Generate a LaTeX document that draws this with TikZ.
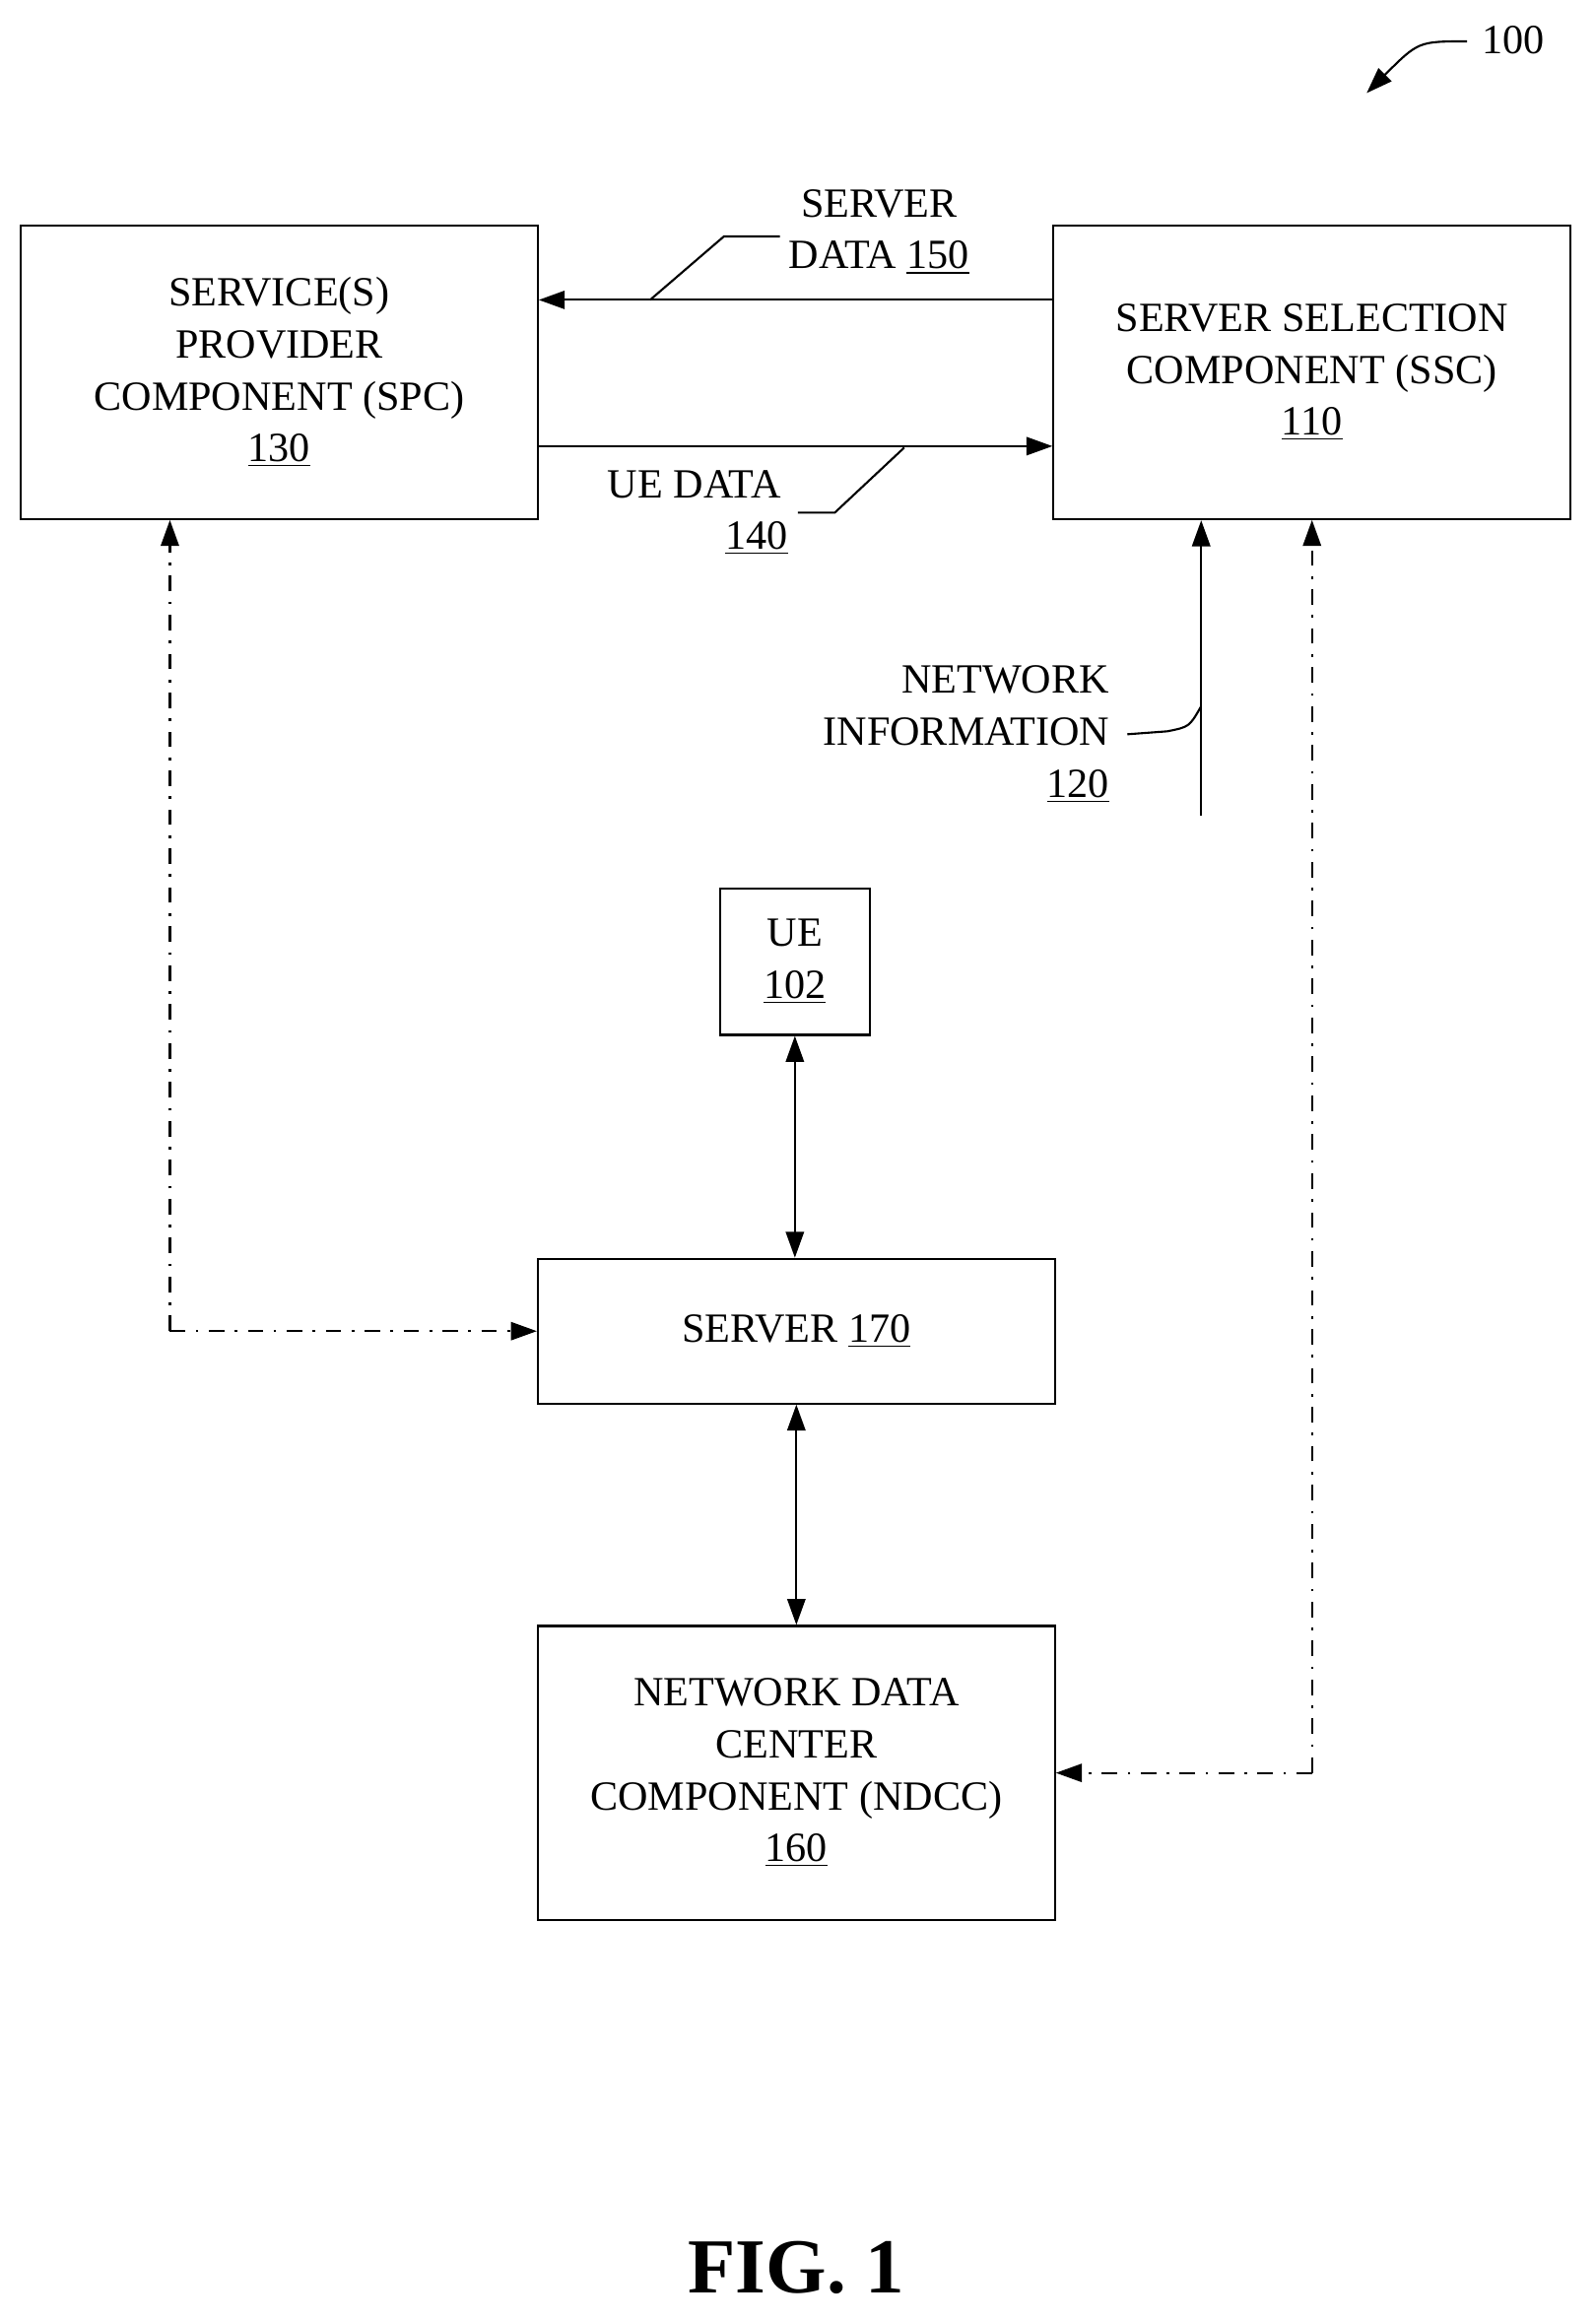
\documentclass[tikz,border=0pt]{standalone}
\usepackage{fontspec}
\setmainfont{Liberation Serif}
\usetikzlibrary{arrows.meta}
\begin{document}
\begin{tikzpicture}[x=0.02cm,y=-0.02cm,
  box/.style={draw, thick, minimum width=7cm, align=center, font=\fontsize{16}{20}\selectfont},
  lbl/.style={align=center, font=\fontsize{16}{20}\selectfont},
  arr/.style={-{Triangle[length=10pt,width=7pt]}, thick},
  darr/.style={{Triangle[length=10pt,width=7pt]}-{Triangle[length=10pt,width=7pt]}, thick},
  dd/.style={arr, dash pattern=on 6pt off 4pt on 1pt off 4pt}]
\useasboundingbox (0,0) rectangle (1080,1571);

\node[box, minimum height=3.98cm] (spc) at (189,252) {SERVICE(S)\\PROVIDER\\COMPONENT (SPC)\\\underline{130}};
\node[box, minimum height=3.98cm] (ssc) at (888,252) {SERVER SELECTION\\COMPONENT (SSC)\\\underline{110}};
\node[box, minimum width=2.02cm, minimum height=1.98cm] (ue) at (538,651) {UE\\\underline{102}};
\node[box, minimum height=1.96cm] (srv) at (539,901) {SERVER \underline{170}};
\node[box, minimum height=3.98cm] (ndcc) at (539,1200) {NETWORK DATA\\CENTER\\COMPONENT (NDCC)\\\underline{160}};

% data flows between SPC and SSC
\draw[arr] (ssc.west |- 0,203) -- (spc.east |- 0,203);
\draw[arr] (spc.east |- 0,302) -- (ssc.west |- 0,302);
\node[lbl] (sd) at (595,157) {SERVER\\DATA \underline{150}};
\draw[thick] (440,203) -- (490,160) -- (sd.west |- 0,160);
\node[lbl] (ud) at (470,347) {UE DATA\\\hspace*{3em}\underline{140}};
\draw[thick] (612,303) -- (565,347) -- (540,347);

% network information
\coordinate (ni) at (813,552);
\draw[arr] (ni) -- (ssc.south -| ni);
\node[lbl, align=right, anchor=east] (nil) at (757,497) {NETWORK\\INFORMATION\\\underline{120}};
\draw[thick] (763,497) -- (790,495) .. controls (805,492) .. (813,478);

% control paths
\draw[dd] (115,901) -- (115,352);
\draw[dd] (115,901) -- (srv.west);
\draw[dd] (888,1200) -- (888,352);
\draw[dd] (888,1200) -- (ndcc.east);
\draw[darr] (ue.south) -- (srv.north -| ue.south);
\draw[darr] (srv.south) -- (ndcc.north);

% figure label
\node[lbl] (ref) at (1024,27) {100};
\draw[arr] (993,28) .. controls (960,28) .. (925,63);
\node[font=\fontsize{30}{34}\selectfont\bfseries] (fig) at (539,1535) {FIG. 1};
\end{tikzpicture}
\end{document}
